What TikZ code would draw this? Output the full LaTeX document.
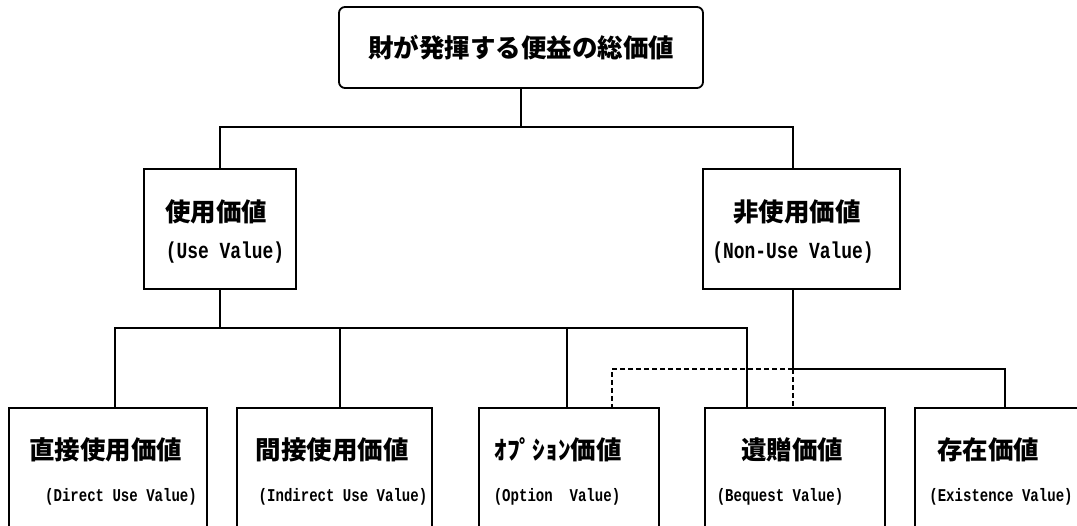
\documentclass[tikz,border=0pt]{standalone}
\usepackage{fontspec}
\newfontfamily\jp{Noto Sans CJK JP}
\newfontfamily\lat{Liberation Mono}[FakeStretch=0.78]
\usetikzlibrary{calc}
\begin{document}
\begin{tikzpicture}[x=1pt,y=-1pt,
  box/.style={draw,line width=1.8pt,rectangle,inner sep=0pt},
  jtxt/.style={inner sep=0pt,font=\jp\bfseries\fontsize{25.5}{25.5}\selectfont},
  etxt/.style={inner sep=0pt,font=\lat\bfseries\fontsize{23}{23}\selectfont},
  setxt/.style={inner sep=0pt,font=\lat\bfseries\fontsize{18}{18}\selectfont},
  link/.style={line width=1.8pt},
  dlink/.style={line width=1.8pt,dash pattern=on 5pt off 3pt}]
\useasboundingbox (0,0) rectangle (1077,526);
\fill[white] (0,0) rectangle (1077,526);
\clip (0,0) rectangle (1077,526);

% top
\node[box,rounded corners=6pt,minimum width=364pt,minimum height=81pt,jtxt] (top) at (521,47.5) {財が発揮する便益の総価値};

% second row
\node[box,minimum width=152pt,minimum height=120pt] (use) at (220,229) {};
\node[jtxt] (useJ) at (216,212) {使用価値};
\node[etxt] (useE) at (225,253) {(Use Value)};

\node[box,minimum width=197pt,minimum height=120pt] (non) at (801.5,229) {};
\node[jtxt] (nonJ) at (797,212) {非使用価値};
\node[etxt] (nonE) at (793,253) {(Non-Use Value)};

% bottom row
\node[box,minimum width=198pt,minimum height=160pt] (dir) at (108,488) {};
\node[jtxt] (dirJ) at (106,450) {直接使用価値};
\node[setxt] (dirE) at (121,497) {(Direct Use Value)};

\node[box,minimum width=195pt,minimum height=160pt] (ind) at (334.5,488) {};
\node[jtxt] (indJ) at (332,450) {間接使用価値};
\node[setxt] (indE) at (343,497) {(Indirect Use Value)};

\node[box,minimum width=180pt,minimum height=160pt] (opt) at (569,488) {};
\node[jtxt] (optJ) at (558,450) {ｵﾌﾟｼｮﾝ価値};
\node[setxt] (optE) at (557,497) {(Option\ \ Value)};

\node[box,minimum width=180pt,minimum height=160pt] (beq) at (795,488) {};
\node[jtxt] (beqJ) at (792,450) {遺贈価値};
\node[setxt] (beqE) at (780,497) {(Bequest Value)};

\node[box,minimum width=180pt,minimum height=160pt] (exi) at (1005,488) {};
\node[jtxt] (exiJ) at (988,450) {存在価値};
\node[setxt] (exiE) at (1001,497) {(Existence Value)};

% attach points
\coordinate (bus1) at (0,127);
\coordinate (bus2) at (0,328);
\coordinate (bus3) at (0,369);
\coordinate (nonT) at ($(non.north west)+(91,0)$);
\coordinate (nonB) at ($(non.south west)+(91,0)$);
\coordinate (dirT) at ($(dir.north west)+(106.5,0)$);
\coordinate (indT) at ($(ind.north west)+(104,0)$);
\coordinate (optT) at ($(opt.north west)+(89,0)$);
\coordinate (optD) at ($(opt.north west)+(134,0)$);
\coordinate (beqT) at ($(beq.north west)+(43,0)$);
\coordinate (beqD) at ($(beq.north west)+(89,0)$);
\coordinate (exiT) at ($(exi.north west)+(91,0)$);

% connectors
\draw[link] (top.south) -- (top.south |- bus1) -| (use.north);
\draw[link] (top.south |- bus1) -| (nonT);
\draw[link] (use.south) -- (use.south |- bus2);
\draw[link] (dirT) |- (beqT |- bus2) -- (beqT);
\draw[link] (indT) -- (indT |- bus2);
\draw[link] (optT) -- (optT |- bus2);
\draw[link] (nonB) -- (nonB |- bus3) -| (exiT);
\draw[dlink] (nonB |- bus3) -- (beqD);
\draw[dlink] (nonB |- bus3) -| (optD);
\end{tikzpicture}
\end{document}
